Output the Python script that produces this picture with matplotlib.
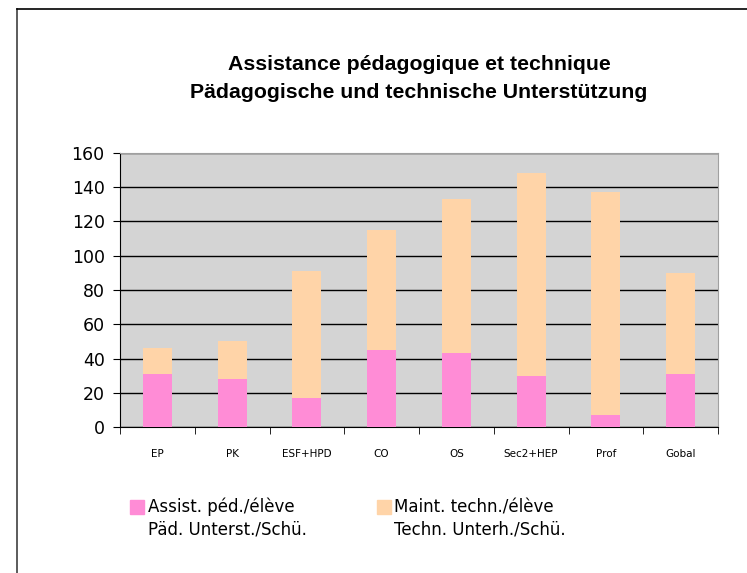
import matplotlib.pyplot as plt
import numpy as np
from matplotlib.patches import Rectangle
from matplotlib.lines import Line2D

categories = ['EP', 'PK', 'ESF+HPD', 'CO', 'OS', 'Sec2+HEP', 'Prof', 'Gobal']
assist_ped = [31, 28, 17, 45, 43.5, 29.5, 7, 31]
totals = [46, 50.5, 91, 115, 133, 148.5, 137.5, 90]
maint_tech = [t - a for t, a in zip(totals, assist_ped)]
legend_labels = ['Assist. péd./élève\nPäd. Unterst./Schü.',
                 'Maint. techn./élève\nTechn. Unterh./Schü.']

pink = '#FF8CD6'
peach = '#FFD4A8'

fig = plt.figure(figsize=(7.47, 5.73), dpi=100)
W, H = 747, 573
ax = fig.add_axes([120 / W, 1 - 427 / H, 598 / W, 274 / H])
ax.set_facecolor('#D4D4D4')

x = np.arange(len(categories))
ax.bar(x, assist_ped, width=0.39, color=pink, zorder=3)
ax.bar(x, maint_tech, width=0.39, bottom=assist_ped, color=peach, zorder=3)

ax.set_xlim(-0.5, len(categories) - 0.5)
ax.set_ylim(0, 160)
ax.set_yticks(range(0, 161, 20))
ax.yaxis.grid(True, color='black', linewidth=1, zorder=1)
ax.set_axisbelow(True)

ax.set_xticks(x)
ax.set_xticklabels(categories, fontsize=7.5, family='DejaVu Sans')
ax.tick_params(axis='x', length=0, pad=16)
ax.set_xticks(np.arange(-0.5, len(categories)), minor=True)
ax.tick_params(axis='x', which='minor', length=5, direction='out', color='black')
ax.tick_params(axis='y', labelsize=12.5, length=5, direction='out', pad=6)

for s in ['top', 'right']:
    ax.spines[s].set_color('#A0A0A0')
for s in ['left', 'bottom']:
    ax.spines[s].set_color('black')

cx = 0.5 * (120 + 718) / W
fig.text(cx, 1 - 65 / H, 'Assistance pédagogique et technique',
         ha='center', va='center', fontsize=15.3, fontweight='bold', family='Liberation Sans')
fig.text(cx, 1 - 93 / H, 'Pädagogische und technische Unterstützung',
         ha='center', va='center', fontsize=15.3, fontweight='bold', family='Liberation Sans')

# legend drawn by hand so the swatch sits on the first text line
for (sx, tx), col, lab in zip([(130, 148), (377, 394)], [pink, peach], legend_labels):
    fig.add_artist(Rectangle((sx / W, 1 - 514 / H), 14 / W, 14 / H, color=col,
                             transform=fig.transFigure))
    fig.text(tx / W, 1 - 498 / H, lab, ha='left', va='top', fontsize=12,
             family='DejaVu Sans', linespacing=1.3)

fig.add_artist(Line2D([17 / W, 17 / W], [0, 1 - 9 / H], color='#404040', linewidth=1.2))
fig.add_artist(Line2D([17 / W, 1], [1 - 9 / H, 1 - 9 / H], color='black', linewidth=1.2))

fig.savefig('out.png', dpi=100)
